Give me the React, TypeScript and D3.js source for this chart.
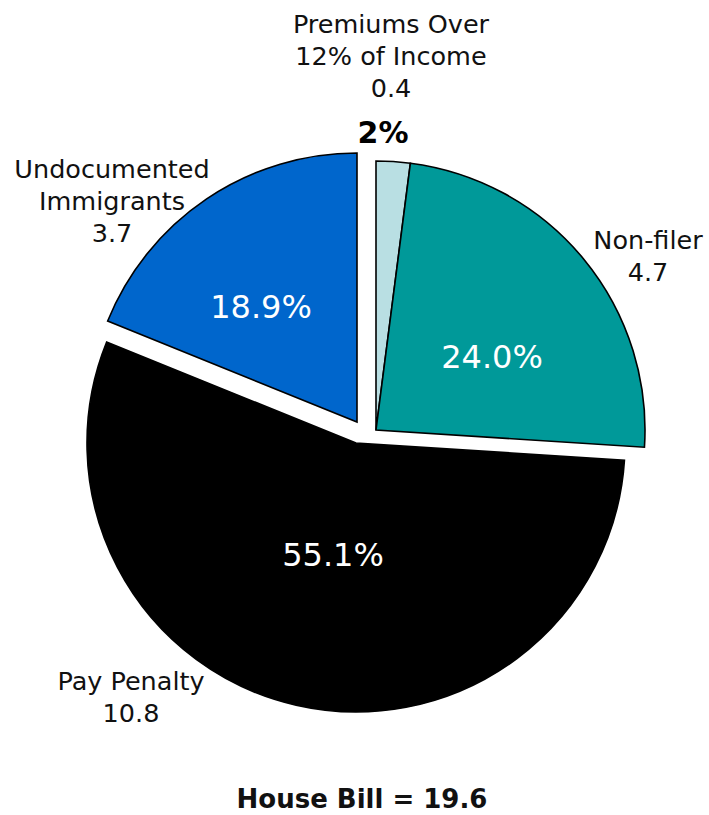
import React from "react";
import * as d3 from "d3";

// ---- data ----
const categories = ["Premiums Over 12% of Income", "Non-filer", "Pay Penalty", "Undocumented Immigrants"];
const categoryLines = [["Premiums Over", "12% of Income"], ["Non-filer"], ["Pay Penalty"], ["Undocumented", "Immigrants"]];
const values = [0.4, 4.7, 10.8, 3.7];
const valueLabels = ["0.4", "4.7", "10.8", "3.7"];
const percentLabels = ["2%", "24.0%", "55.1%", "18.9%"];
const totalLabel = "House Bill = 19.6";

// ---- style / layout ----
const W = 709;
const H = 815;
const colors = ["#b9dfe3", "#009999", "#000000", "#0066cc"];
const center = { x: 356, y: 443 };
const radius = 269;
// explode offsets per slice (px)
const explode: [number, number][] = [[20, -13], [20, -13], [0, 0], [1, -21]];
// category label anchors: [centerX, firstBaseline]
const catLabelPos: [number, number][] = [[391, 33], [648, 249], [131, 690], [112, 178]];
// percent label anchors
const pctLabelPos: [number, number][] = [[383, 143], [492, 368], [333, 566], [261, 318]];
const pctStyle = [
  { fill: "#000", weight: 700, size: 30 },
  { fill: "#fff", weight: 400, size: 32 },
  { fill: "#fff", weight: 400, size: 32 },
  { fill: "#fff", weight: 400, size: 32 },
];
const lineH = 32;
const font = "'DejaVu Sans', Verdana, sans-serif";

export default function App() {
  const pie = d3.pie<number>().sort(null).value((d) => d).startAngle(0).endAngle(2 * Math.PI);
  const arcs = pie(values);
  const arc = d3.arc<d3.PieArcDatum<number>>().innerRadius(0).outerRadius(radius);

  return (
    <svg width={W} height={H} style={{ position: "absolute", left: 0, top: 0, background: "#fff" }} fontFamily={font}>
      <g transform={`translate(${center.x},${center.y})`}>
        {arcs.map((a, i) => (
          <path
            key={categories[i]}
            d={arc(a) || ""}
            transform={`translate(${explode[i][0]},${explode[i][1]})`}
            fill={colors[i]}
            stroke="#000"
            strokeWidth={1.6}
            strokeLinejoin="miter"
          />
        ))}
      </g>
      {categoryLines.map((lines, i) => {
        const [x, y] = catLabelPos[i];
        const all = [...lines, valueLabels[i]];
        return (
          <text key={"c" + i} x={x} y={y} textAnchor="middle" fontSize={25.5} fill="#111">
            {all.map((t, j) => (
              <tspan key={j} x={x} y={y + j * lineH}>
                {t}
              </tspan>
            ))}
          </text>
        );
      })}
      {percentLabels.map((t, i) => (
        <text
          key={"p" + i}
          x={pctLabelPos[i][0]}
          y={pctLabelPos[i][1]}
          textAnchor="middle"
          fontSize={pctStyle[i].size}
          fontWeight={pctStyle[i].weight}
          fill={pctStyle[i].fill}
        >
          {t}
        </text>
      ))}
      <text x={362} y={808} textAnchor="middle" fontSize={26} fontWeight={700} fill="#111">
        {totalLabel}
      </text>
    </svg>
  );
}
